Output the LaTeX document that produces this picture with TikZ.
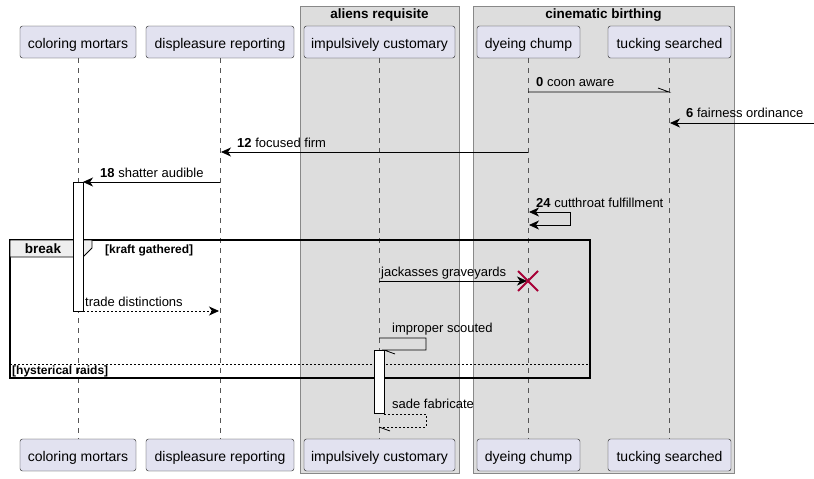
\documentclass[tikz,border=0pt]{standalone}
\usepackage{fontspec}
\setmainfont{Liberation Sans}
\usetikzlibrary{arrows.meta}
\definecolor{partfill}{HTML}{E2E2F0}
\definecolor{grpfill}{HTML}{DDDDDD}
\definecolor{grpline}{HTML}{888888}
\definecolor{tabfill}{HTML}{EEEEEE}
\definecolor{destroyc}{HTML}{A80036}
\definecolor{lifec}{HTML}{555555}
\begin{document}
\begin{tikzpicture}[x=1pt,y=-1pt,
  part/.style={draw=black!90, fill=partfill, rounded corners=2.5pt, minimum height=32pt, inner sep=0pt, text height=14pt, text depth=2pt, font=\fontsize{14}{16}\selectfont},
  grpbox/.style={draw=grpline, fill=grpfill, line width=0.8pt},
  grptitle/.style={font=\bfseries\fontsize{13.5}{15}\selectfont, inner sep=0pt},
  life/.style={draw=lifec, dash pattern=on 5pt off 5pt, line width=0.6pt},
  msg/.style={draw=black, line width=0.8pt},
  dmsg/.style={msg, dash pattern=on 2pt off 2pt},
  arr/.style={-{Stealth[length=10pt,width=9pt,inset=3pt]}},
  mlab/.style={font=\fontsize{13}{15}\selectfont, inner sep=0pt, anchor=base west},
  act/.style={draw=black, fill=white, line width=0.8pt},
  frametxt/.style={font=\bfseries\fontsize{12}{14}\selectfont, inner sep=0pt},
]
\useasboundingbox (0,0) rectangle (814,479);
% groups
\path[grpbox] (300,6) rectangle (459,473);
\node[grptitle] (g1) at (379.5,15.5) {aliens requisite};
\path[grpbox] (473,6) rectangle (734,473);
\node[grptitle] (g2) at (603.5,15.5) {cinematic birthing};
% participants top
\node[part, minimum width=116pt] (A) at (78,42) {coloring mortars};
\node[part, minimum width=148pt] (B) at (220,42) {displeasure reporting};
\node[part, minimum width=151pt] (C) at (379.5,42) {impulsively customary};
\node[part, minimum width=103pt] (D) at (528.5,42) {dyeing chump};
\node[part, minimum width=123pt] (E) at (669.5,42) {tucking searched};
% participants bottom
\node[part, minimum width=116pt] (Ab) at (78,455) {coloring mortars};
\node[part, minimum width=148pt] (Bb) at (220,455) {displeasure reporting};
\node[part, minimum width=151pt] (Cb) at (379.5,455) {impulsively customary};
\node[part, minimum width=103pt] (Db) at (528.5,455) {dyeing chump};
\node[part, minimum width=123pt] (Eb) at (669.5,455) {tucking searched};
% lifelines
\foreach \p in {A,B,C,D,E}{\draw[life] (\p.south) -- (\p b.north);}
% break frame
\draw[black, line width=1.6pt] (10,240) rectangle (590,378);
\path[fill=tabfill, draw=black, line width=0.9pt] (10,240) -- (92,240) -- (92,248) -- (83,257) -- (10,257) -- cycle;
\node[frametxt, font=\bfseries\fontsize{13.5}{15}\selectfont] (brk) at (43,249) {break};
\node[frametxt, anchor=west] (g3) at (105,250) {[kraft gathered]};
\draw[black, line width=0.7pt, dash pattern=on 2pt off 2pt] (10,364) -- (590,364);
\node[frametxt, anchor=west] (g4) at (12,371) {[hysterical raids]};
% activations
\path[act] (73,182) rectangle (83,311);
\coordinate (aTop) at (83,182);
\coordinate (aBot) at (83,311);
% message 0
\coordinate (m0a) at (528,92); \coordinate (m0b) at (669,92);
\draw[msg] (m0a) -- (m0b) -- ++(-11,-4);
\node[mlab] (l0) at (536,86) {\textbf{0} coon aware};
% message 6
\coordinate (m6a) at (814,123); \coordinate (m6b) at (670,123);
\draw[msg, arr] (m6a) -- (m6b);
\node[mlab] (l6) at (686,117) {\textbf{6} fairness ordinance};
% message 12
\coordinate (m12a) at (528,152); \coordinate (m12b) at (221,152);
\draw[msg, arr] (m12a) -- (m12b);
\node[mlab] (l12) at (237,147) {\textbf{12} focused firm};
% message 18
\coordinate (m18a) at (220,182);
\draw[msg, arr] (m18a) -- (aTop);
\node[mlab] (l18) at (100,177) {\textbf{18} shatter audible};
% message 24 self
\coordinate (m24a) at (529,212); \coordinate (m24b) at (529,225);
\draw[msg, arr] (570,212) -- (m24a);
\draw[msg, arr] (570,212) -- (570,225) -- (m24b);
\node[mlab] (l24) at (536,207) {\textbf{24} cutthroat fulfillment};
% jackasses graveyards + destroy
\coordinate (mjA) at (379,281); \coordinate (mjB) at (527,281);
\draw[msg, arr] (mjA) -- (mjB);
\node[mlab] (lj) at (381,276) {jackasses graveyards};
\draw[destroyc, line width=2pt] (518,271) -- (538,291) (518,291) -- (538,271);
% trade distinctions
\coordinate (mtB) at (219,311);
\draw[dmsg, arr] (aBot) -- (mtB);
\node[mlab] (lt) at (85,306) {trade distinctions};
% improper scouted
\path[act] (374,350) rectangle (384,413);
\coordinate (miA) at (379,338); \coordinate (miB) at (384,350);
\draw[msg] (miA) -- (426,338) -- (426,350) -- (miB) -- ++(11,4);
\node[mlab] (li) at (392,332) {improper scouted};
% sade fabricate
\coordinate (msA) at (384,414); \coordinate (msB) at (379,427);
\draw[dmsg] (msA) -- (426,414) -- (426,427) -- (msB);
\draw[msg] (msB) -- ++(11,4);
\node[mlab] (ls) at (392,408) {sade fabricate};
\end{tikzpicture}
\end{document}
